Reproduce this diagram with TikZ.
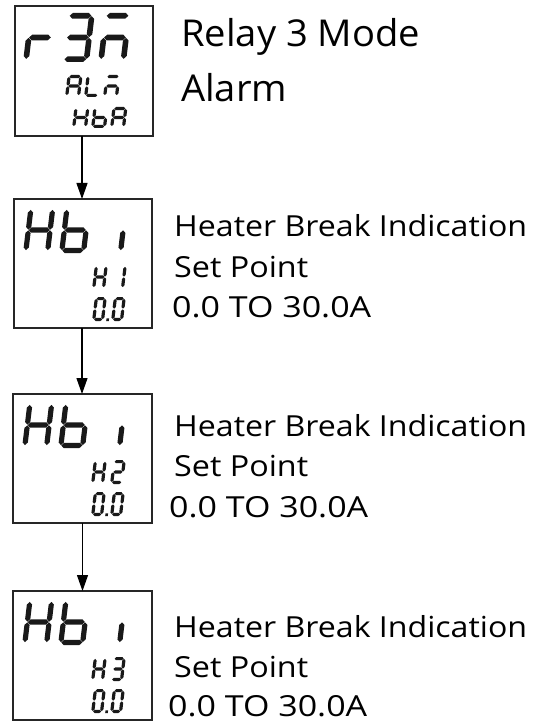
\documentclass[tikz,border=0pt]{standalone}
\usepackage{fontspec}
\setmainfont{Open Sans}
\usepackage{graphicx}
\usetikzlibrary{arrows.meta}
\tikzset{
  lcdbox/.style={draw=black!85, line width=1.2pt, minimum width=138pt, minimum height=130pt, anchor=north west, inner sep=0pt, outer sep=0pt},
  flow/.style={draw=black, line width=1.2pt, -{Triangle[width=11pt,length=16pt]}},
  segfill/.style={fill=black!90},
  lbl/.style={anchor=base west, inner sep=0pt, font=\fontsize{29}{34}\selectfont},
  ttl/.style={anchor=base west, inner sep=0pt, font=\fontsize{37}{44}\selectfont},
}
\newcommand\SSgap{0.35}
\newcommand\ssegh[3]{\fill[segfill] ({#1+\SSgap},{#3}) -- ({#1+\SSgap+\sT},{#3+\sT}) -- ({#2-\SSgap-\sT},{#3+\sT}) -- ({#2-\SSgap},{#3}) -- ({#2-\SSgap-\sT},{#3-\sT}) -- ({#1+\SSgap+\sT},{#3-\sT}) -- cycle;}
\newcommand\ssegv[3]{\fill[segfill] ({#1},{#2+\SSgap}) -- ({#1+\sT},{#2+\SSgap+\sT}) -- ({#1+\sT},{#3-\SSgap-\sT}) -- ({#1},{#3-\SSgap}) -- ({#1-\sT},{#3-\SSgap-\sT}) -- ({#1-\sT},{#2+\SSgap+\sT}) -- cycle;}
\def\ssega{\ssegh{\sT}{\sW-\sT}{\sH-\sT}}
\def\ssegb{\ssegv{\sW-\sT}{\sH/2}{\sH-\sT}}
\def\ssegc{\ssegv{\sW-\sT}{\sT}{\sH/2}}
\def\ssegd{\ssegh{\sT}{\sW-\sT}{\sT}}
\def\ssege{\ssegv{\sT}{\sT}{\sH/2}}
\def\ssegf{\ssegv{\sT}{\sH/2}{\sH-\sT}}
\def\ssegg{\ssegh{\sT}{\sW-\sT}{\sH/2}}
\def\ssegp{\fill[segfill] ({\sW+2.2},0) rectangle ({\sW+4.8},2.6);}
% #1,#2 bottom-left (px, y down), #3 width, #4 height, #5 thickness, #6 segments
\newcommand\ssdigit[6]{%
  \begin{scope}[shift={({#1},{#2})}, x=1pt, y=1pt, xslant=0.12]
    \pgfmathsetmacro\sW{#3}\pgfmathsetmacro\sH{#4}\pgfmathsetmacro\sT{#5/2}
    \foreach \s in {#6}{\csname sseg\s\endcsname}
  \end{scope}}
\newcommand\hbdisplay[3]{%
  \ssdigit{#1+9}{#2+54}{27}{46}{5.2}{b,c,e,f,g}
  \ssdigit{#1+45}{#2+54}{27}{46}{5.2}{c,d,e,f,g}
  \ssdigit{#1+82}{#2+54}{27}{46}{5.2}{c}
  \ssdigit{#1+78}{#2+90}{13}{24}{3.2}{b,c,e,f,g}
  \ssdigit{#1+97}{#2+90}{13}{24}{3.2}{#3}
  \ssdigit{#1+78}{#2+122}{12}{24}{3.2}{a,b,c,d,e,f,p}
  \ssdigit{#1+97}{#2+122}{12}{24}{3.2}{a,b,c,d,e,f}}
\begin{document}
\begin{tikzpicture}[x=1pt, y=-1pt]
  \useasboundingbox (0,0) rectangle (544,722);
  % boxes
  \node[lcdbox] (b1) at (15,6) {};
  \node[lcdbox, minimum height=129pt] (b2) at (14,199) {};
  \node[lcdbox, minimum height=129pt, minimum width=139pt] (b3) at (13,394) {};
  \node[lcdbox, minimum height=129pt, minimum width=139pt] (b4) at (13,591) {};
  % arrows
  \draw[flow] ([xshift=-2pt]b1.south) -- ([xshift=-2pt]b1.south |- b2.north);
  \draw[flow] ([xshift=-1pt]b2.south) -- ([xshift=-1pt]b2.south |- b3.north);
  \draw[flow] (b3.south) -- (b3.south |- b4.north);
  % display 1: r3m / ALm / HbA
  \ssdigit{23}{62}{28}{49}{5.6}{e,g}
  \ssdigit{61}{62}{28}{49}{5.6}{a,b,c,d,g}
  \ssdigit{98}{62}{28}{49}{5.6}{a,c,e,g}
  \ssdigit{65}{97}{15}{22}{3.2}{a,b,c,e,f,g}
  \ssdigit{84}{97}{15}{22}{3.2}{d,e,f}
  \ssdigit{103}{97}{15}{22}{3.2}{a,c,e,g}
  \ssdigit{72}{128}{15}{21}{3.2}{b,c,e,f,g}
  \ssdigit{91}{128}{15}{21}{3.2}{c,d,e,f,g}
  \ssdigit{110}{128}{15}{21}{3.2}{a,b,c,e,f,g}
  % displays 2-4
  \hbdisplay{14}{199}{b,c}
  \hbdisplay{13}{394}{a,b,g,e,d}
  \hbdisplay{13}{591}{a,b,g,c,d}
  % texts
  \node[ttl] (t1a) at (181,47) {\resizebox{239pt}{\height}{Relay 3 Mode}};
  \node[ttl] (t1b) at (181,102) {\resizebox{106pt}{\height}{Alarm}};
  \node[lbl] (t2a) at (174,236) {\resizebox{353pt}{\height}{Heater Break Indication}};
  \node[lbl] (t2b) at (174,277) {\resizebox{134pt}{\height}{Set Point}};
  \node[lbl] (t2c) at (172,317) {\resizebox{199pt}{\height}{0.0 TO 30.0A}};
  \node[lbl] (t3a) at (174,436) {\resizebox{353pt}{\height}{Heater Break Indication}};
  \node[lbl] (t3b) at (174,476) {\resizebox{134pt}{\height}{Set Point}};
  \node[lbl] (t3c) at (169,517) {\resizebox{199pt}{\height}{0.0 TO 30.0A}};
  \node[lbl] (t4a) at (174,637) {\resizebox{353pt}{\height}{Heater Break Indication}};
  \node[lbl] (t4b) at (174,677) {\resizebox{134pt}{\height}{Set Point}};
  \node[lbl] (t4c) at (168,716) {\resizebox{199pt}{\height}{0.0 TO 30.0A}};
\end{tikzpicture}
\end{document}
